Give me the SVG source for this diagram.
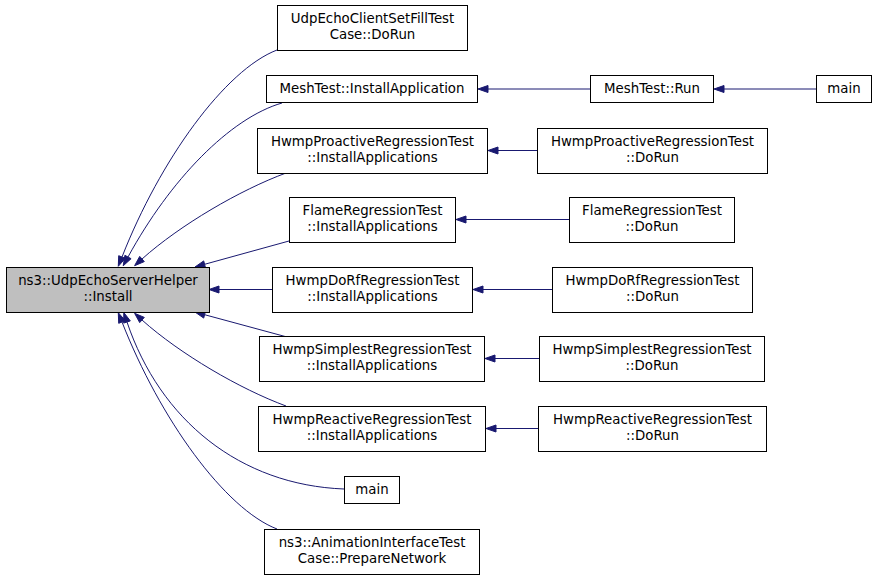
<svg xmlns="http://www.w3.org/2000/svg" width="877" height="579" viewBox="0 0 877 579">
<style>
  .n rect { fill: #ffffff; stroke: #000000; stroke-width: 1; }
  .n.hl rect { fill: #bfbfbf; }
  .n text { font-family: "DejaVu Sans", "Liberation Sans", sans-serif; font-size: 13.33px; text-anchor: middle; fill: #000000; }
  .e path { fill: none; stroke: #191970; stroke-width: 1; }
  .e polygon { fill: #191970; stroke: #191970; stroke-width: 1; }
</style>
<rect x="0" y="0" width="877" height="579" fill="#ffffff"/>
<g id="edges" class="e">
  <path d="M277,50 C225,70 160,160 122,257"/>
  <polygon points="125.3,258.3 118.3,266.3 118.7,255.7"/>
  <path d="M282,103 C230,118 170,180 128,257"/>
  <polygon points="131.1,258.7 123.2,265.8 124.9,255.3"/>
  <path d="M286,173 C240,190 180,225 142,259"/>
  <polygon points="144.3,261.6 134.6,265.7 139.7,256.4"/>
  <path d="M289,241 L204.6,264.3"/>
  <polygon points="205.5,267.7 195,267 203.7,260.9"/>
  <path d="M272,289.5 L219,289.5"/>
  <polygon points="219,286 209,289.5 219,293"/>
  <path d="M287,337 L204.6,314.7"/>
  <polygon points="205.5,311.3 195,312 203.7,318.1"/>
  <path d="M286,406 C240,389 180,354 142,320"/>
  <polygon points="144.3,317.4 134.6,313.3 139.7,322.6"/>
  <path d="M344,489 C240,485 160,420 127,322"/>
  <polygon points="130.3,320.9 123.8,312.5 123.7,323.1"/>
  <path d="M277,529 C225,509 160,419 122,322"/>
  <polygon points="125.3,320.7 118.3,312.7 118.7,323.3"/>
  <path d="M590,89 L488,89"/>
  <polygon points="488,85.5 478,89 488,92.5"/>
  <path d="M816,89 L724,89"/>
  <polygon points="724,85.5 714,89 724,92.5"/>
  <path d="M537,150.5 L498,150.5"/>
  <polygon points="498,147 488,150.5 498,154"/>
  <path d="M569,219.5 L466,219.5"/>
  <polygon points="466,216 456,219.5 466,223"/>
  <path d="M552,289.5 L483,289.5"/>
  <polygon points="483,286 473,289.5 483,293"/>
  <path d="M539,358.5 L495,358.5"/>
  <polygon points="495,355 485,358.5 495,362"/>
  <path d="M538,428.5 L496,428.5"/>
  <polygon points="496,425 486,428.5 496,432"/>
</g>
<g id="node-main" class="n hl">
  <rect x="6.5" y="267.5" width="203" height="45"/>
  <text x="108" y="285">ns3::UdpEchoServerHelper</text>
  <text x="108" y="301">::Install</text>
</g>
<g id="node-udpechoclient" class="n">
  <rect x="277.5" y="5.5" width="190" height="45"/>
  <text x="372.5" y="23">UdpEchoClientSetFillTest</text>
  <text x="372.5" y="39">Case::DoRun</text>
</g>
<g id="node-meshinstall" class="n">
  <rect x="266.5" y="75.5" width="211" height="27"/>
  <text x="372" y="93">MeshTest::InstallApplication</text>
</g>
<g id="node-meshrun" class="n">
  <rect x="590.5" y="75.5" width="123" height="27"/>
  <text x="652" y="93">MeshTest::Run</text>
</g>
<g id="node-main-top" class="n">
  <rect x="816.5" y="75.5" width="55" height="27"/>
  <text x="844" y="93">main</text>
</g>
<g id="node-proactive-install" class="n">
  <rect x="257.5" y="128.5" width="230" height="45"/>
  <text x="372.5" y="146">HwmpProactiveRegressionTest</text>
  <text x="372.5" y="162">::InstallApplications</text>
</g>
<g id="node-proactive-dorun" class="n">
  <rect x="537.5" y="128.5" width="230" height="45"/>
  <text x="652.5" y="146">HwmpProactiveRegressionTest</text>
  <text x="652.5" y="162">::DoRun</text>
</g>
<g id="node-flame-install" class="n">
  <rect x="289.5" y="197.5" width="166" height="45"/>
  <text x="372.5" y="215">FlameRegressionTest</text>
  <text x="372.5" y="231">::InstallApplications</text>
</g>
<g id="node-flame-dorun" class="n">
  <rect x="569.5" y="197.5" width="165" height="45"/>
  <text x="652" y="215">FlameRegressionTest</text>
  <text x="652" y="231">::DoRun</text>
</g>
<g id="node-dorf-install" class="n">
  <rect x="272.5" y="267.5" width="200" height="45"/>
  <text x="372.5" y="285">HwmpDoRfRegressionTest</text>
  <text x="372.5" y="301">::InstallApplications</text>
</g>
<g id="node-dorf-dorun" class="n">
  <rect x="552.5" y="267.5" width="200" height="45"/>
  <text x="652.5" y="285">HwmpDoRfRegressionTest</text>
  <text x="652.5" y="301">::DoRun</text>
</g>
<g id="node-simplest-install" class="n">
  <rect x="259.5" y="336.5" width="225" height="45"/>
  <text x="372" y="354">HwmpSimplestRegressionTest</text>
  <text x="372" y="370">::InstallApplications</text>
</g>
<g id="node-simplest-dorun" class="n">
  <rect x="539.5" y="336.5" width="225" height="45"/>
  <text x="652" y="354">HwmpSimplestRegressionTest</text>
  <text x="652" y="370">::DoRun</text>
</g>
<g id="node-reactive-install" class="n">
  <rect x="258.5" y="406.5" width="227" height="45"/>
  <text x="372" y="424">HwmpReactiveRegressionTest</text>
  <text x="372" y="440">::InstallApplications</text>
</g>
<g id="node-reactive-dorun" class="n">
  <rect x="538.5" y="406.5" width="228" height="45"/>
  <text x="652.5" y="424">HwmpReactiveRegressionTest</text>
  <text x="652.5" y="440">::DoRun</text>
</g>
<g id="node-main-bottom" class="n">
  <rect x="344.5" y="476.5" width="55" height="27"/>
  <text x="372" y="494">main</text>
</g>
<g id="node-animation" class="n">
  <rect x="264.5" y="529.5" width="215" height="45"/>
  <text x="372" y="547">ns3::AnimationInterfaceTest</text>
  <text x="372" y="563">Case::PrepareNetwork</text>
</g>
</svg>
